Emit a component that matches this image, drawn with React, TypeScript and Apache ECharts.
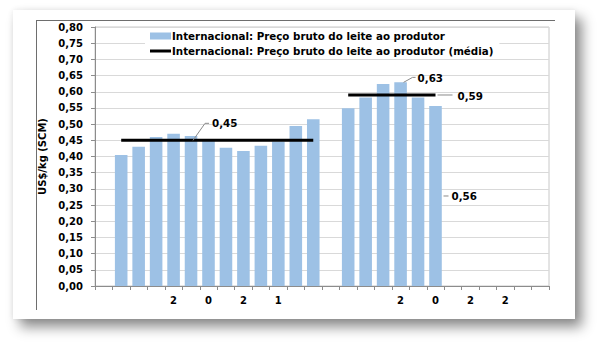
import React, { useEffect, useRef } from "react";
import * as echarts from "echarts";

const xLabels = ["", "", "", "", "2", "", "0", "", "2", "", "1", "", "", "", "", "", "", "2", "", "0", "", "2", "", "2", "", ""];
const precoBruto: (number | null)[] = [
  null, 0.405, 0.43, 0.46, 0.47, 0.463, 0.452, 0.427, 0.417, 0.433, 0.446, 0.494, 0.515,
  null, 0.549, 0.582, 0.624, 0.629, 0.582, 0.556,
  null, null, null, null, null, null,
];
const precoMedia: (number | null)[] = [
  null, 0.45, 0.45, 0.45, 0.45, 0.45, 0.45, 0.45, 0.45, 0.45, 0.45, 0.45, 0.45,
  null, 0.59, 0.59, 0.59, 0.59, 0.59, 0.59,
  null, null, null, null, null, null,
];
const yTicks = { min: 0, max: 0.8, interval: 0.05 };
const serieBarra = "Internacional: Preço bruto do leite ao produtor";
const serieMedia = "Internacional: Preço bruto do leite ao produtor (média)";

const FONT = "DejaVu Sans";
const fmt = (v: number) => v.toFixed(2).replace(".", ",");

export default function App() {
  const ref = useRef<HTMLDivElement>(null);
  useEffect(() => {
    const chart = echarts.init(ref.current!, null, { renderer: "svg" });
    chart.setOption({
      animation: false,
      grid: { left: 95, right: 51, top: 27, bottom: 59, show: true, borderColor: "#c8c8c8", borderWidth: 1 },
      legend: {
        orient: "vertical",
        left: 145,
        top: 28,
        padding: [2, 6, 2, 5],
        backgroundColor: "#ffffff",
        itemGap: 3,
        itemWidth: 21,
        itemHeight: 7,
        textStyle: { fontFamily: FONT, fontWeight: "bold", fontSize: 10.3, color: "#000", lineHeight: 12, padding: [0, 0, 0, -4] },
        data: [
          { name: serieBarra, icon: "rect" },
          { name: serieMedia, icon: "path://M0,0H21V3H0Z", itemStyle: { color: "#000" } },
        ],
      },
      xAxis: {
        type: "category",
        data: xLabels.map((_, i) => String(i)),
        axisLine: { lineStyle: { color: "#8c8c8c", width: 1 } },
        axisTick: { show: true, interval: 0, length: 4, lineStyle: { color: "#8c8c8c" } },
        axisLabel: {
          interval: 0,
          margin: 9,
          fontFamily: FONT,
          fontWeight: "bold",
          fontSize: 10,
          color: "#000",
          formatter: (_v: string, i: number) => xLabels[i],
        },
        splitLine: { show: false },
      },
      yAxis: {
        type: "value",
        min: yTicks.min,
        max: yTicks.max,
        interval: yTicks.interval,
        name: "US$/kg (SCM)",
        nameLocation: "middle",
        nameGap: 44,
        nameTextStyle: { fontFamily: FONT, fontWeight: "bold", fontSize: 10, color: "#000" },
        axisLine: { show: true, lineStyle: { color: "#8c8c8c", width: 1 } },
        axisTick: { show: true, length: 4, lineStyle: { color: "#8c8c8c" } },
        axisLabel: { margin: 12, fontFamily: FONT, fontWeight: "bold", fontSize: 10, color: "#000", formatter: (v: number) => fmt(v) },
        splitLine: { show: true, lineStyle: { color: "#d9d9d9", width: 1 } },
      },
      series: [
        {
          name: serieBarra,
          type: "bar",
          data: precoBruto,
          barWidth: "72%",
          itemStyle: { color: "#9dc1e5" },
        },
        {
          name: serieMedia,
          type: "line",
          data: precoMedia,
          symbol: "none",
          connectNulls: false,
          lineStyle: { color: "#000", width: 3 },
          itemStyle: { color: "#000" },
          z: 5,
        },
      ],
    });

    const px = (i: number, v: number) => chart.convertToPixel({ xAxisIndex: 0, yAxisIndex: 0 }, [i, v]) as number[];
    const gray = { stroke: "#8a8a8a", lineWidth: 1, fill: null };
    const textStyle = { fontFamily: FONT, fontWeight: "bold", fontSize: 10.3, fill: "#000", textVerticalAlign: "middle" };
    const graphics: any[] = [];
    const addAnn = (x: number, y: number, pts: number[][], tx: number, ty: number, text: string) => {
      graphics.push({ type: "polyline", shape: { points: pts.map(([dx, dy]) => [x + dx, y + dy]) }, style: gray, z: 20 });
      graphics.push({ type: "text", x: x + tx, y: y + ty, style: { ...textStyle, text }, z: 20 });
    };
    // 0,45 on left average line
    {
      const [x, y] = px(5, precoMedia[5]!);
      addAnn(x, y, [[2, 0], [14, -17], [18, -17]], 21, -17, fmt(precoMedia[5]!));
    }
    // 0,63 on max bar
    {
      const [x, y] = px(17, precoBruto[17]!);
      addAnn(x, y, [[3, 0], [12, -5], [15, -5]], 17, -4, fmt(precoBruto[17]!));
    }
    // 0,59 at right end of right average line
    {
      const [x, y] = px(19, precoMedia[19]!);
      addAnn(x, y, [[2, 0], [17, 0]], 22, 1, fmt(precoMedia[19]!));
    }
    // 0,56 beside last bar
    {
      const [x, y] = px(19, precoBruto[19]! / 2);
      addAnn(x, y, [[8, 0], [13, 0]], 16, 0, fmt(precoBruto[19]!));
    }
    // chart area border (top and left)
    graphics.push({ type: "line", shape: { x1: 36, y1: 20.5, x2: 555, y2: 20.5 }, style: { stroke: "#6e6e6e", lineWidth: 1 } });
    graphics.push({ type: "line", shape: { x1: 36.5, y1: 20, x2: 36.5, y2: 310 }, style: { stroke: "#6e6e6e", lineWidth: 1 } });
    chart.setOption({ graphic: graphics });

    return () => chart.dispose();
  }, []);

  return (
    <div style={{ position: "fixed", left: 0, top: 0, width: 600, height: 345, background: "#ffffff", overflow: "hidden" }}>
      <div
        style={{
          position: "absolute",
          left: 13,
          top: 10,
          width: 562,
          height: 309,
          background: "#ffffff",
          boxShadow: "0 0 6px rgba(0,0,0,0.08), 7px 8px 12px rgba(0,0,0,0.45)",
        }}
      />
      <div ref={ref} style={{ position: "absolute", left: 0, top: 0, width: 600, height: 345 }} />
    </div>
  );
}
